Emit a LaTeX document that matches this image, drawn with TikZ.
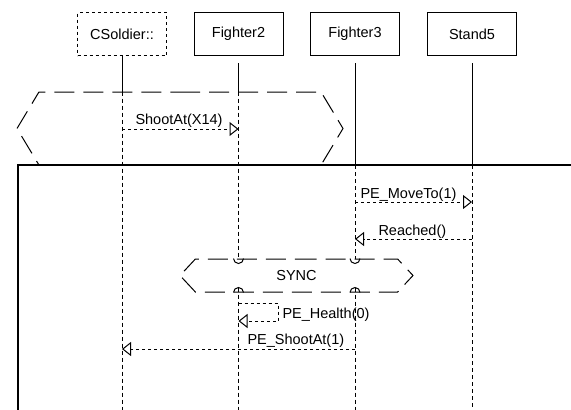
\documentclass[tikz,border=0pt]{standalone}
\usepackage{fontspec}
\setmainfont{Liberation Sans}
\usetikzlibrary{arrows.meta,shapes.symbols}
\begin{document}
\begin{tikzpicture}[x=1pt, y=-1pt, line width=1pt,
  mybox/.style={draw, minimum width=89pt, minimum height=43pt, inner sep=0pt, font=\fontsize{14.5}{16}\selectfont, #1},
  mybox/.default=solid,
  mylabel/.style={anchor=base west, inner sep=0pt, font=\fontsize{14.5}{16}\selectfont},
  myline/.style={dash pattern=on 4pt off 3pt},
  mymsg/.style={dash pattern=on 3pt off 3pt, -{Triangle[open, length=9pt, width=14pt]}},
  myhex/.style={draw, signal, signal to=west and east, dash pattern=on 20pt off 9pt, inner sep=0pt, font=\fontsize{14.5}{16}\selectfont, #1}]
\useasboundingbox (0,0) rectangle (571,410);
\node[mybox=dashed] (cs) at (122,34) {CSoldier::};
\node[mybox] (f2) at (238.5,34) {Fighter2};
\node[mybox] (f3) at (355,34) {Fighter3};
\node[mybox] (s5) at (472,34) {Stand5};
\node[myhex={minimum width=326pt, minimum height=73pt, signal pointer angle=118}] (par) at (180,128.5) {};
\node[myhex={minimum width=233pt, minimum height=33pt, signal pointer angle=94}] (sync) at (296.5,275.5) {SYNC};
\coordinate (bot) at (0,410);
\coordinate (top) at (0,165);
\draw (cs.south) -- (cs |- par.north);
\draw[myline] (cs |- par.north) -- (cs |- bot);
\draw ([yshift=-7pt]f2.south) -- (f2 |- par.north);
\draw[myline] (f2 |- par.north) -- (f2 |- sync.north);
\draw[myline] ([yshift=5pt]f2 |- sync.south) -- (f2 |- bot);
\draw ([yshift=-7pt]f3.south) -- (f3 |- top);
\draw[myline] (f3 |- top) -- (f3 |- sync.north);
\draw[myline] ([yshift=5pt]f3 |- sync.south) -- (f3 |- bot);
\draw ([yshift=-7pt]s5.south) -- (s5 |- top);
\draw[myline] (s5 |- top) -- (s5 |- bot);
\foreach \l in {f2,f3}{
  \draw ([xshift=-5pt]\l |- sync.north) arc[start angle=180, end angle=360, radius=5pt];
  \draw ([xshift=-5pt]\l |- sync.south) arc[start angle=180, end angle=0, radius=5pt];
}
\draw[line width=2.5pt] (18,412) |- (573,165);
\coordinate (m1) at (0,129);
\coordinate (m2) at (0,202);
\coordinate (m3) at (0,239);
\coordinate (m4) at (278,321);
\coordinate (m5) at (0,349);
\draw[mymsg] (cs |- m1) -- (f2 |- m1);
\node[mylabel] (l1) at (135,124) {ShootAt(X14)};
\draw[mymsg] (f3 |- m2) -- (s5 |- m2);
\node[mylabel] (l2) at (360,198) {PE\_MoveTo(1)};
\draw[mymsg] (s5 |- m3) -- (f3 |- m3);
\node[mylabel] (l3) at (378,235) {Reached()};
\draw[mymsg] (f2 |- 0,303) -| (m4) -- (f2 |- m4);
\node[mylabel] (l4) at (282,318) {PE\_Health(0)};
\draw[mymsg] (f3 |- m5) -- (cs |- m5);
\node[mylabel] (l5) at (247,344) {PE\_ShootAt(1)};
\end{tikzpicture}
\end{document}
